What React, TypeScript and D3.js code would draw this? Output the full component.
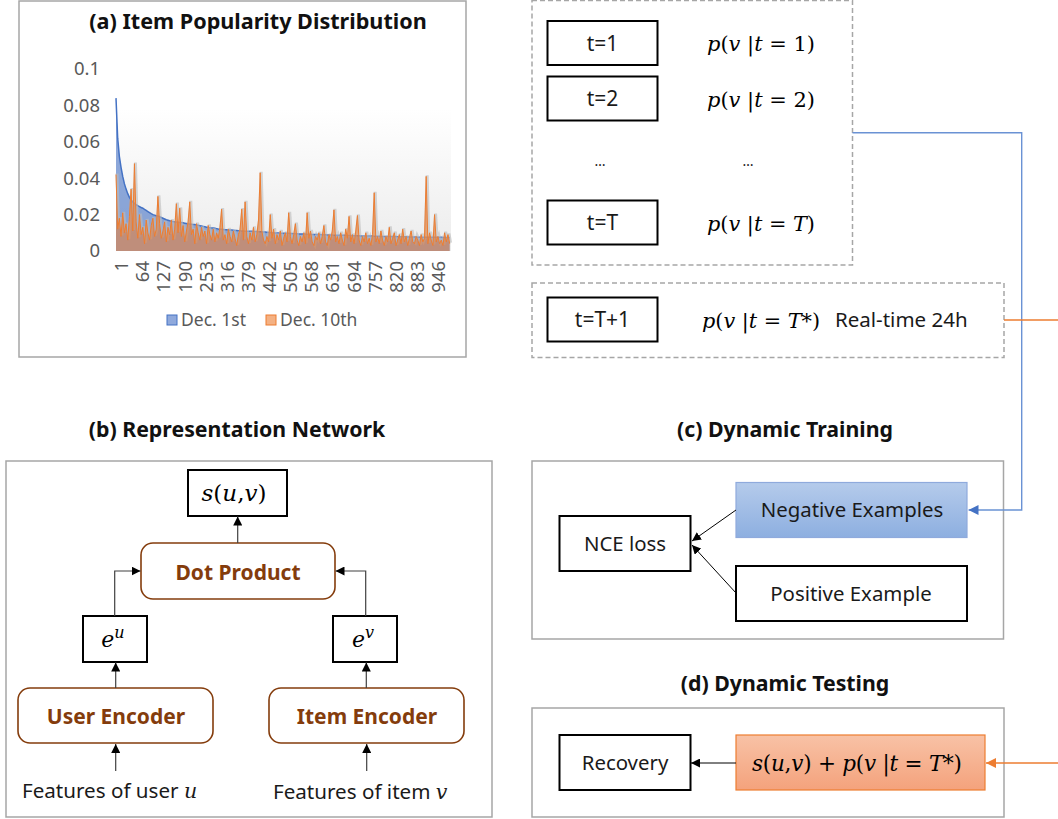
import React from 'react';
import * as d3 from 'd3';

// ranks of the sampled items (every 5th item of ~1000)
const itemRanks = d3.range(200).map(i => 1 + i * 5);
const xTickItems = [1, 64, 127, 190, 253, 316, 379, 442, 505, 568, 631, 694, 757, 820, 883, 946];
const yTicks = [0, 0.02, 0.04, 0.06, 0.08, 0.1];
const seriesNames = ['Dec. 1st', 'Dec. 10th'];

// popularity on Dec. 1st (sorted)
const dec1st = [
  .0840, .0620, .0520, .0460, .0410, .0370, .0340, .0315, .0295, .0280,
  .0270, .0262, .0255, .0249, .0244, .0239, .0235, .0229, .0223, .0217,
  .0211, .0205, .0200, .0197, .0194, .0192, .0188, .0184, .0180, .0176,
  .0172, .0169, .0166, .0164, .0162, .0160, .0159, .0158, .0157, .0156,
  .0155, .0153, .0151, .0149, .0148, .0147, .0146, .0145, .0143, .0141,
  .0139, .0137, .0135, .0133, .0131, .0129, .0128, .0127, .0126, .0125,
  .0123, .0121, .0120, .0119, .0118, .0117, .0117, .0116, .0116, .0115,
  .0114, .0113, .0112, .0111, .0111, .0110, .0110, .0109, .0109, .0108,
  .0108, .0108, .0107, .0107, .0107, .0106, .0106, .0106, .0105, .0104,
  .0103, .0102, .0101, .0100, .0100, .0099, .0099, .0099, .0098, .0098,
  .0098, .0097, .0097, .0097, .0096, .0096, .0095, .0095, .0095, .0094,
  .0094, .0093, .0093, .0093, .0092, .0092, .0092, .0091, .0091, .0091,
  .0090, .0090, .0090, .0089, .0089, .0089, .0088, .0088, .0088, .0088,
  .0087, .0087, .0087, .0087, .0086, .0086, .0086, .0086, .0085, .0085,
  .0085, .0085, .0084, .0084, .0084, .0084, .0083, .0083, .0083, .0083,
  .0082, .0082, .0082, .0082, .0081, .0081, .0081, .0081, .0080, .0080,
  .0080, .0080, .0080, .0079, .0079, .0079, .0079, .0079, .0078, .0078,
  .0078, .0078, .0078, .0078, .0077, .0077, .0077, .0077, .0077, .0077,
  .0076, .0076, .0076, .0076, .0076, .0076, .0076, .0075, .0075, .0075,
  .0075, .0075, .0075, .0075, .0075, .0074, .0074, .0074, .0074, .0074,
];

// popularity of the same items on Dec. 10th
const dec10th = [
  .042, .012, .018, .008, .021, .010, .015, .006, .019, .034,
  .011, .048, .016, .007, .020, .009, .013, .004, .017, .010,
  .006, .014, .018, .008, .012, .030, .015, .007, .011, .016,
  .005, .013, .009, .017, .006, .012, .026, .010, .0235, .008,
  .014, .005, .011, .016, .027, .009, .012, .004, .015, .010,
  .006, .013, .008, .011, .004, .014, .009, .006, .012, .005,
  .010, .007, .013, .023, .006, .009, .004, .012, .008, .005,
  .011, .007, .003, .009, .012, .023, .006, .027, .008, .004,
  .010, .006, .013, .005, .009, .017, .043, .011, .006, .004,
  .008, .005, .020, .007, .012, .004, .009, .006, .011, .003,
  .007, .010, .005, .021, .008, .004, .009, .015, .006, .003,
  .008, .005, .010, .004, .021, .007, .011, .005, .003, .008,
  .006, .010, .004, .008, .014, .005, .003, .009, .006, .011,
  .0226, .005, .008, .004, .010, .006, .003, .012, .007, .019,
  .005, .009, .004, .011, .0195, .006, .003, .008, .005, .010,
  .004, .007, .003, .009, .032, .005, .008, .004, .011, .006,
  .003, .008, .005, .013, .004, .007, .010, .003, .006, .009,
  .004, .012, .005, .008, .003, .007, .011, .005, .004, .008,
  .006, .003, .009, .005, .007, .041, .004, .010, .006, .003,
  .020, .005, .008, .004, .006, .003, .010, .005, .009, .004,
];

const SANS = "'Noto Sans', 'Open Sans', sans-serif";
const SERIF = "'DejaVu Serif', serif";
const BROWN = '#843C0C';
const GRAY = '#A6A6A6';
const TITLE = 21.3;

type Seg = [string, boolean] | [string, boolean, number, number]; // text, italic, dy, size

function MathText({ x, y, segs, size, anchor = 'middle', width, adjust = 'spacingAndGlyphs' }: any) {
  return (
    <text x={x} y={y} fontFamily={SERIF} fontSize={size} textAnchor={anchor}
      textLength={width} lengthAdjust={adjust} style={{ whiteSpace: 'pre' }} fill="#000">
      {segs.map((s: Seg, i: number) => (
        <tspan key={i} fontStyle={s[1] ? 'italic' : 'normal'} dy={s[2] || undefined} fontSize={s[3] || undefined}>{s[0]}</tspan>
      ))}
    </text>
  );
}

function pSegs(last: Seg[]): Seg[] {
  return [['p', true], ['(', false], ['v', true], [' |', false], ['t', true], [' = ', false], ...last];
}

function Label({ x, y, children, size = 20, weight = 400, fill = '#1a1a1a' }: any) {
  return <text x={x} y={y} textAnchor="middle" fontFamily={SANS} fontSize={size} fontWeight={weight} fill={fill}>{children}</text>;
}

function PopularityChart() {
  const x = d3.scaleLinear().domain([1, 1000]).range([116, 451]);
  const y = d3.scaleLinear().domain([0, 0.1]).range([251, 69]);
  const area = d3.area<number>()
    .x((_, i) => x(itemRanks[i]))
    .y0(y(0))
    .y1(d => y(d));
  const line = d3.line<number>()
    .x((_, i) => x(itemRanks[i]))
    .y(d => y(d));
  const fmt = (d: number) => String(+d.toFixed(2));
  return (
    <g>
      <rect x={19} y={1} width={447} height={356} fill="#fff" stroke={GRAY} strokeWidth={1.5} />
      <Label x={258} y={29} size={21.6} weight={700} fill="#111">(a) Item Popularity Distribution</Label>
      <rect x={x(1)} y={y(0.078)} width={x(1000) - x(1)} height={y(0) - y(0.078)} fill="url(#plotbg)" />
      {yTicks.map(t => (
        <text key={t} x={100} y={y(t)} dy="0.35em" textAnchor="end" fontFamily={SANS} fontSize={18.5} fill="#595959">{fmt(t)}</text>
      ))}
      <path d={area(dec1st) || ''} fill="#4472C4" fillOpacity={0.6} stroke="none" />
      <path d={line(dec1st) || ''} fill="none" stroke="#4472C4" strokeWidth={1.5} />
      <path d={line(dec10th) || ''} fill="none" stroke="#bdbdbd" strokeOpacity={0.6} strokeWidth={3} transform="translate(1,-1)" />
      <path d={area(dec10th) || ''} fill="#ED7D31" fillOpacity={0.55} stroke="none" />
      <path d={line(dec10th) || ''} fill="none" stroke="#ED7D31" strokeWidth={1} />
      {xTickItems.map(t => (
        <text key={t} transform={`translate(${x(t)},261) rotate(-90)`} dy="0.66em" textAnchor="end"
          fontFamily={SANS} fontSize={18.5} fill="#595959">{t}</text>
      ))}
      {seriesNames.map((n, i) => {
        const lx = i === 0 ? 167 : 266;
        return (
          <g key={n}>
            <rect x={lx} y={315} width={10} height={10} fill={i === 0 ? '#8FA9DC' : '#F4B183'} stroke={i === 0 ? '#4472C4' : '#ED7D31'} />
            <text x={lx + 14} y={320} dy="0.35em" fontFamily={SANS} fontSize={17.5} fill="#595959">{n}</text>
          </g>
        );
      })}
    </g>
  );
}

function RepresentationNetwork() {
  const box = { fill: '#fff', stroke: '#000', strokeWidth: 2 };
  const enc = { fill: '#fff', stroke: BROWN, strokeWidth: 1.6, rx: 12 };
  const ln = { fill: 'none', stroke: '#404040', strokeWidth: 1.2, markerEnd: 'url(#ah)' };
  return (
    <g>
      <Label x={237} y={437} size={TITLE} weight={700} fill="#111">(b) Representation Network</Label>
      <rect x={6} y={461} width={486} height={356} fill="#fff" stroke={GRAY} strokeWidth={1.5} />
      <rect x={188} y={470} width={99} height={46} {...box} />
      <MathText x={234} y={501} size={22} width={65} segs={[['s', true], ['(', false], ['u', true], [',', false], ['v', true], [')', false]]} />
      <rect x={141} y={543} width={194} height={56} {...enc} />
      <Label x={238} y={580} size={21} weight={700} fill={BROWN}>Dot Product</Label>
      <rect x={83} y={616} width={64} height={46} {...box} />
      <MathText x={113} y={647} size={22} segs={[['e', true], ['u', true, -9, 16]]} />
      <rect x={333} y={616} width={64} height={46} {...box} />
      <MathText x={363} y={647} size={22} segs={[['e', true], ['v', true, -9, 16]]} />
      <rect x={18} y={688} width={195} height={55} {...enc} />
      <Label x={116} y={724} size={21} weight={700} fill={BROWN}>User Encoder</Label>
      <rect x={269} y={688} width={195} height={55} {...enc} />
      <Label x={367} y={724} size={21} weight={700} fill={BROWN}>Item Encoder</Label>
      <path d="M115.7,771V744" {...ln} />
      <path d="M366.7,771V744" {...ln} />
      <path d="M115.7,688V662.5" {...ln} />
      <path d="M366.3,688V662.5" {...ln} />
      <path d="M114.7,616V571H140.5" {...ln} />
      <path d="M365.7,616V571H335.5" {...ln} />
      <path d="M237.7,543V516.5" {...ln} />
      <text x={22} y={798} fontFamily={SANS} fontSize={20.6} fill="#1a1a1a">Features of user <tspan fontFamily={SERIF} fontStyle="italic">u</tspan></text>
      <text x={273} y={799} fontFamily={SANS} fontSize={20.6} fill="#1a1a1a">Features of item <tspan fontFamily={SERIF} fontStyle="italic">v</tspan></text>
    </g>
  );
}

function TimeSlots() {
  const box = { fill: '#fff', stroke: '#000', strokeWidth: 2 };
  const rows = [
    { label: 't=1', cy: 43, last: [['1)', false]] as Seg[] },
    { label: 't=2', cy: 98.5, last: [['2)', false]] as Seg[] },
    { label: 't=T', cy: 222.5, last: [['T', true], [')', false]] as Seg[] },
  ];
  return (
    <g>
      <rect x={532} y={0.5} width={320.5} height={264.5} fill="none" stroke={GRAY} strokeWidth={1.5} strokeDasharray="5,3" />
      {rows.map(r => (
        <g key={r.label}>
          <rect x={547.5} y={r.cy - 22} width={110} height={44} {...box} />
          <Label x={602.5} y={r.cy + 7.5} size={21}>{r.label}</Label>
          <MathText x={761} y={r.cy + 8} size={21} width={108} segs={pSegs(r.last)} />
        </g>
      ))}
      <Label x={600} y={166} size={14}>…</Label>
      <Label x={748} y={166} size={14}>…</Label>
      <rect x={532} y={283} width={472} height={74.5} fill="none" stroke={GRAY} strokeWidth={1.5} strokeDasharray="5,3" />
      <rect x={547.5} y={297.5} width={110} height={44} {...box} />
      <Label x={602.5} y={327} size={21}>t=T+1</Label>
      <MathText x={702} y={328} size={21} anchor="start" width={118}
        segs={pSegs([['T', true], ['*)', false]])} />
      <text x={835} y={327} fontFamily={SANS} fontSize={20.5} fill="#1a1a1a">Real-time 24h</text>
    </g>
  );
}

function DynamicTraining() {
  const box = { fill: '#fff', stroke: '#000', strokeWidth: 2 };
  const ln = { fill: 'none', stroke: '#000', strokeWidth: 1, markerEnd: 'url(#ah)' };
  return (
    <g>
      <Label x={785} y={437} size={TITLE} weight={700} fill="#111">(c) Dynamic Training</Label>
      <rect x={532} y={461} width={471.5} height={178} fill="#fff" stroke={GRAY} strokeWidth={1.5} />
      <rect x={736} y={482.5} width={231} height={55} fill="url(#negGrad)" stroke="#8FAADC" strokeWidth={1.2} />
      <Label x={852} y={517} size={20.4}>Negative Examples</Label>
      <rect x={736} y={566} width={231} height={55} {...box} />
      <Label x={851} y={601} size={20.4}>Positive Example</Label>
      <rect x={559.5} y={516} width={131} height={55} {...box} />
      <Label x={625} y={551} size={20.4}>NCE loss</Label>
      <path d="M736,510L692,541" {...ln} />
      <path d="M736,593L692,545" {...ln} />
    </g>
  );
}

function DynamicTesting() {
  const box = { fill: '#fff', stroke: '#000', strokeWidth: 2 };
  return (
    <g>
      <Label x={785} y={691} size={TITLE} weight={700} fill="#111">(d) Dynamic Testing</Label>
      <rect x={532} y={708} width={472} height={109} fill="#fff" stroke={GRAY} strokeWidth={1.5} />
      <rect x={559.5} y={735} width={131} height={55} {...box} />
      <Label x={625} y={770} size={20.4}>Recovery</Label>
      <rect x={736} y={735} width={249} height={55} fill="url(#orGrad)" stroke="#ED7D31" strokeWidth={1.2} />
      <MathText x={752} y={771} size={21.5} anchor="start" width={210} adjust="spacing"
        segs={[['s', true], ['(', false], ['u', true], [',', false], ['v', true], [') + ', false], ...pSegs([['T', true], ['*)', false]])]} />
      <path d="M736,763H691" fill="none" stroke="#000" strokeWidth={1} markerEnd="url(#ah)" />
    </g>
  );
}

export default function App() {
  return (
    <svg width={1058} height={819} style={{ position: 'absolute', left: 0, top: 0, background: '#fff' }}>
      <defs>
        <linearGradient id="plotbg" x1="0" y1="0" x2="0" y2="1">
          <stop offset="0" stopColor="#ffffff" />
          <stop offset="1" stopColor="#ececec" />
        </linearGradient>
        <linearGradient id="negGrad" x1="0" y1="0" x2="0" y2="1">
          <stop offset="0" stopColor="#B5CBEB" />
          <stop offset="1" stopColor="#8DAFE0" />
        </linearGradient>
        <linearGradient id="orGrad" x1="0" y1="0" x2="0" y2="1">
          <stop offset="0" stopColor="#F8C2A6" />
          <stop offset="1" stopColor="#F4A27C" />
        </linearGradient>
        <marker id="ah" viewBox="0 0 10 10" refX="10" refY="5" markerWidth={9} markerHeight={9} markerUnits="userSpaceOnUse" orient="auto">
          <path d="M0,0L10,5L0,10z" fill="#000" />
        </marker>
        <marker id="ahBlue" viewBox="0 0 10 10" refX="10" refY="5" markerWidth={10} markerHeight={10} markerUnits="userSpaceOnUse" orient="auto">
          <path d="M0,0L10,5L0,10z" fill="#4472C4" />
        </marker>
        <marker id="ahOrange" viewBox="0 0 10 10" refX="10" refY="5" markerWidth={10} markerHeight={10} markerUnits="userSpaceOnUse" orient="auto">
          <path d="M0,0L10,5L0,10z" fill="#ED7D31" />
        </marker>
      </defs>
      <PopularityChart />
      <RepresentationNetwork />
      <TimeSlots />
      <DynamicTraining />
      <DynamicTesting />
      <path d="M852.5,132.7H1021.7V510H968.5" fill="none" stroke="#6A92D4" strokeWidth={1.4} markerEnd="url(#ahBlue)" />
      <path d="M1004,320H1058" fill="none" stroke="#ED7D31" strokeWidth={1.4} />
      <path d="M1058,763H986" fill="none" stroke="#ED7D31" strokeWidth={1.4} markerEnd="url(#ahOrange)" />
    </svg>
  );
}
